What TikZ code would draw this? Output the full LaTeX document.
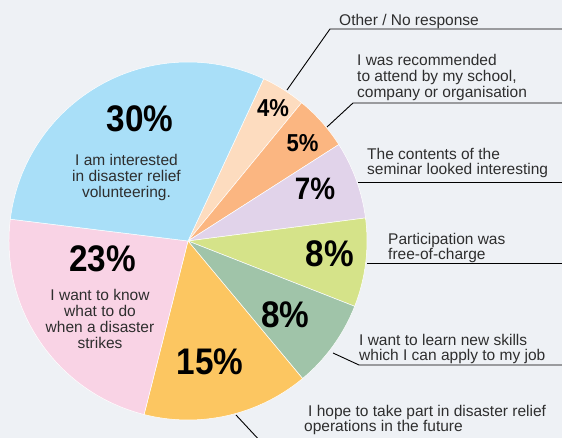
\documentclass[tikz,border=0pt]{standalone}
\usepackage{fontspec}
\setmainfont{Liberation Sans}
\newfontfamily\pctfont{Liberation Sans}[FakeStretch=0.9]
\definecolor{bgcol}{HTML}{EEF1F5}
\definecolor{cblue}{HTML}{A9DFF8}
\definecolor{cpeach}{HTML}{FDDCBF}
\definecolor{corange}{HTML}{FBB681}
\definecolor{clav}{HTML}{E1D3EA}
\definecolor{cyg}{HTML}{D5E389}
\definecolor{csage}{HTML}{A0C4A9}
\definecolor{cyellow}{HTML}{FCC661}
\definecolor{cpink}{HTML}{F9D3E5}
\definecolor{labelgray}{HTML}{2E2E2E}
\newcommand\myslice[3]{\fill[#3, draw=white, line width=0.5pt] (c) -- ++(#1:179pt) arc[start angle=#1, end angle=#2, radius=179pt] -- cycle;}
\tikzset{
  lbl/.style={font=\fontsize{15.5}{15.8}\selectfont, text=labelgray, inner sep=0pt, align=left, anchor=base west},
  inlbl/.style={font=\fontsize{15.5}{16}\selectfont, text=labelgray, inner sep=0pt, align=center, anchor=base},
  bigpct/.style={font=\pctfont\bfseries\fontsize{37}{37}\selectfont, inner sep=0pt, anchor=base},
  midpct/.style={font=\pctfont\bfseries\fontsize{31}{31}\selectfont, inner sep=0pt, anchor=base},
  smallpct/.style={font=\pctfont\bfseries\fontsize{24.5}{24.5}\selectfont, inner sep=0pt, anchor=base},
  leader/.style={draw=black, line width=0.9pt}
}
\begin{document}
\begin{tikzpicture}[x=1pt,y=1pt]
\useasboundingbox (0,0) rectangle (562,438);
\fill[bgcol] (0,0) rectangle (562,438);
\clip (0,0) rectangle (562,438);
\coordinate (c) at (188,197);
% slices
\myslice{65}{50.6}{cpeach}
\myslice{50.6}{32.6}{corange}
\myslice{32.6}{7.4}{clav}
\myslice{7.4}{-21.4}{cyg}
\myslice{-21.4}{-50.2}{csage}
\myslice{-50.2}{-104.2}{cyellow}
\myslice{-104.2}{-187}{cpink}
\myslice{173}{65}{cblue}
% percentages
\node[bigpct] (p30) at (140,306) {30\%};
\node[bigpct] (p23) at (102.5,166) {23\%};
\node[bigpct] (p15) at (210,63) {15\%};
\node[bigpct] (p8a) at (285.5,110) {8\%};
\node[bigpct] (p8b) at (330,171) {8\%};
\node[midpct] (p7) at (315,238) {7\%};
\node[smallpct] (p5) at (302.5,286) {5\%};
\node[smallpct] (p4) at (273,321) {4\%};
% inside labels (anchor = baseline of last line)
\node[inlbl] (tblue) at (126.5,240.5) {I am interested\\in disaster relief\\volunteering.};
\node[inlbl] (tpink) at (100,89.5) {I want to know\\what to do\\when a disaster\\strikes};
% outside labels (anchor = baseline of last line)
\node[lbl] (t1) at (339,412) {Other / No response};
\node[lbl] (t2) at (357,340.5) {I was recommended\\to attend by my school,\\company or organisation};
\node[lbl] (t3) at (367,263) {The contents of the\\seminar looked interesting};
\node[lbl] (t4) at (388,178) {Participation was\\free-of-charge};
\node[lbl] (t5) at (359,77) {I want to learn new skills\\which I can apply to my job};
\node[lbl] (t6) at (304,6) {\hspace*{4pt}I hope to take part in disaster relief\\operations in the future};
% leader coordinates
\coordinate (l1a) at (287,348); \coordinate (l1b) at (330,409); \coordinate (l1c) at (563,409);
\coordinate (l2a) at (327,311); \coordinate (l2b) at (353,335); \coordinate (l2c) at (563,335);
\coordinate (l3a) at (358,256); \coordinate (l3c) at (563,256);
\coordinate (l4a) at (367,174.7); \coordinate (l4c) at (563,174.7);
\coordinate (l5a) at (333,85); \coordinate (l5b) at (359,73); \coordinate (l5c) at (563,73);
\coordinate (l6a) at (236,23); \coordinate (l6b) at (262,-5);
\draw[leader] (l1a) -- (l1b) -- (l1c);
\draw[leader] (l2a) -- (l2b) -- (l2c);
\draw[leader] (l3a) -- (l3c);
\draw[leader] (l4a) -- (l4c);
\draw[leader] (l5a) -- (l5b) -- (l5c);
\draw[leader] (l6a) -- (l6b);
\end{tikzpicture}
\end{document}
